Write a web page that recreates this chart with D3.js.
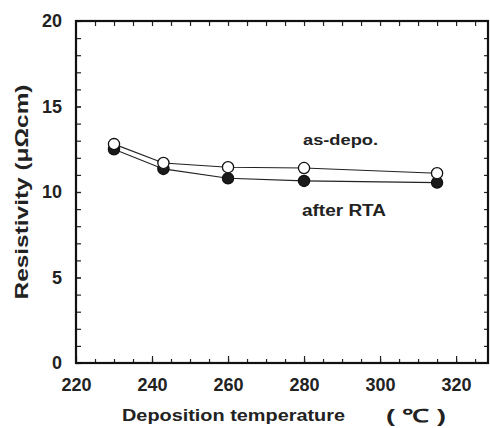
<!DOCTYPE html>
<html>
<head>
<meta charset="utf-8">
<script src="https://cdn.jsdelivr.net/npm/d3@7"></script>
<style>
  body { margin: 0; background: #fff; }
  svg { display: block; }
  .tick text { font-family: "Liberation Sans", Arial, sans-serif; font-weight: bold; fill: #222; }
</style>
</head>
<body>
<svg width="490" height="428"></svg>
<script>
// Deposition temperature (°C) for each measured sample.
var temps = [230, 243, 260, 280, 315];
// Resistivity in µΩcm.
var asDepo = [12.8, 11.7, 11.45, 11.4, 11.1];
var afterRTA = [12.5, 11.35, 10.8, 10.65, 10.55];

var xMajor = [220, 240, 260, 280, 300, 320];
var yMajor = [0, 5, 10, 15, 20];

var svg = d3.select("svg");
// plot frame edges (pixels)
var pLeft = 76, pRight = 488, pTop = 21, pBottom = 363;

var x = d3.scaleLinear().domain([220, 328.4]).range([pLeft, pRight]);
var y = d3.scaleLinear().domain([0, 20]).range([pBottom, pTop]);

var axes = svg.append("g");

// Minor ticks every 5 deg on x, every 1 unit on y, all pointing inward.
var xMinor = d3.range(225, 329, 5);
var yMinor = d3.range(1, 20, 1);

axes.append("g").attr("transform", "translate(0," + pBottom + ")")
    .call(d3.axisBottom(x).tickValues(xMinor).tickSize(-4).tickFormat(""));
axes.append("g").attr("transform", "translate(0," + pBottom + ")")
    .call(d3.axisBottom(x).tickValues(xMajor).tickSize(-7).tickPadding(15));
axes.append("g").attr("transform", "translate(0," + pTop + ")")
    .call(d3.axisTop(x).tickValues(xMinor).tickSize(-5).tickFormat(""));

axes.append("g").attr("transform", "translate(" + pLeft + ",0)")
    .call(d3.axisLeft(y).tickValues(yMinor).tickSize(-5).tickFormat(""));
axes.append("g").attr("transform", "translate(" + pLeft + ",0)")
    .call(d3.axisLeft(y).tickValues(yMajor).tickSize(-5).tickPadding(14));
axes.append("g").attr("transform", "translate(" + pRight + ",0)")
    .call(d3.axisRight(y).tickValues(yMinor).tickSize(-4).tickFormat(""));

axes.selectAll(".domain").remove();
axes.selectAll(".tick line").attr("stroke", "#222").attr("stroke-width", 1.2);
axes.selectAll(".tick text").style("font-size", "18px");

// Frame
svg.append("rect")
    .attr("x", pLeft).attr("y", pTop)
    .attr("width", pRight - pLeft).attr("height", pBottom - pTop)
    .attr("fill", "none").attr("stroke", "#111").attr("stroke-width", 2.2);

var line = d3.line().x(function(d) { return x(d[0]); }).y(function(d) { return y(d[1]); });

function drawSeries(vals, fill) {
    var pts = temps.map(function(t, i) { return [t, vals[i]]; });
    svg.append("path").datum(pts)
        .attr("d", line).attr("fill", "none")
        .attr("stroke", "#222").attr("stroke-width", 1.1);
    svg.selectAll(null).data(pts).enter().append("circle")
        .attr("cx", function(d) { return x(d[0]); })
        .attr("cy", function(d) { return y(d[1]); })
        .attr("r", 5.6)
        .attr("fill", fill).attr("stroke", "#111").attr("stroke-width", 1.3);
}
drawSeries(afterRTA, "#1a1a1a");
drawSeries(asDepo, "#fff");

var font = "'Liberation Sans', Arial, sans-serif";
function label(txt, px, py, size, len) {
    return svg.append("text").attr("x", px).attr("y", py)
        .attr("font-family", font).attr("font-weight", "bold")
        .attr("font-size", size).attr("fill", "#222")
        .attr("textLength", len).attr("lengthAdjust", "spacingAndGlyphs")
        .text(txt);
}
label("as-depo.", 303, 145, 15, 75);
label("after RTA", 302, 216, 16, 84);

label("Deposition temperature", 122, 421, 17, 223);
label("(  \u2103  )", 386, 422, 18, 60);

svg.append("text")
    .attr("transform", "translate(28,192) rotate(-90)")
    .attr("text-anchor", "middle")
    .attr("font-family", font).attr("font-weight", "bold")
    .attr("font-size", 18).attr("fill", "#222")
    .attr("textLength", 215).attr("lengthAdjust", "spacingAndGlyphs")
    .text("Resistivity (\u03bc\u03a9cm)");
</script>
</body>
</html>
